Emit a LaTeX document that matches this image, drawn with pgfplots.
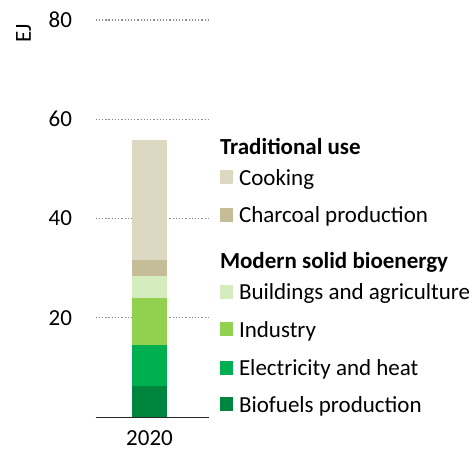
\documentclass[border=0pt]{standalone}
\usepackage{fontspec}
\setmainfont{Carlito}
\usepackage{pgfplots}
\pgfplotsset{compat=1.18}
\definecolor{cooking}{HTML}{DDD8C2}
\definecolor{charcoal}{HTML}{C4BD97}
\definecolor{buildings}{HTML}{D5EDBE}
\definecolor{industry}{HTML}{92D050}
\definecolor{electricity}{HTML}{00B050}
\definecolor{biofuels}{HTML}{00853E}
\pgfplotsset{sqleg/.style={legend image code/.code={\fill[##1, overlay] (0pt,1pt) rectangle (13pt,15pt);}}}
\newcommand{\ent}[2]{\raisebox{0pt}[#1][6pt]{#2}}
\newcommand{\ttl}[2]{\hspace*{-19pt}\raisebox{0pt}[#1][6pt]{\bfseries #2}}
\begin{document}
\begin{tikzpicture}
\useasboundingbox (0,0) rectangle (476pt,-453pt);
\begin{axis}[
  at={(95.7pt,-417pt)}, anchor=south west,
  scale only axis, width=113.3pt, height=397pt,
  xmin=-53.8, xmax=59.5, ymin=0, ymax=80,
  ybar stacked, bar width=35.6pt,
  axis x line*=bottom, axis y line*=left,
  y axis line style={draw=none},
  x axis line style={black!85, line width=0.9pt, -},
  xtick={0}, xticklabels={2020},
  ytick={20,40,60,80},
  major tick length=0pt,
  ymajorgrids, grid style={black!45, line width=1.4pt, dash pattern=on 1.3pt off 1.9pt},
  ticklabel style={font=\fontsize{23}{27}\selectfont},
  /pgf/number format/assume math mode=true,
  xticklabel style={anchor=north, inner sep=0pt, yshift=-13pt},
  yticklabel style={anchor=east, inner sep=0pt, xshift=-23.5pt},
  ylabel={EJ},
  ylabel style={at={(axis description cs:-0.637,0.967)}, anchor=center, inner sep=0pt, font=\fontsize{23}{27}\selectfont},
  legend style={at={(axis description cs:1.0971,0.7028)}, anchor=north west, draw=none, fill=none, inner sep=0pt, outer sep=0pt, row sep=0pt, column sep=19pt, nodes={inner sep=0pt}, font=\fontsize{23}{27}\selectfont},
  legend cell align=left,
  legend style={cells={anchor=base west}},
]
\addplot[fill=biofuels, draw=none, forget plot] coordinates {(0,6.2)};
\addplot[fill=electricity, draw=none, forget plot] coordinates {(0,8.4)};
\addplot[fill=industry, draw=none, forget plot] coordinates {(0,9.4)};
\addplot[fill=buildings, draw=none, forget plot] coordinates {(0,4.4)};
\addplot[fill=charcoal, draw=none, forget plot] coordinates {(0,3.3)};
\addplot[fill=cooking, draw=none, forget plot] coordinates {(0,24.1)};
\addlegendimage{empty legend}
\addlegendentry{\ttl{17pt}{Traditional use}}
\addlegendimage{sqleg, fill=cooking, draw=none}
\addlegendentry{\ent{29pt}{Cooking}}
\addlegendimage{sqleg, fill=charcoal, draw=none}
\addlegendentry{\ent{36pt}{Charcoal production}}
\addlegendimage{empty legend}
\addlegendentry{\ttl{44pt}{Modern solid bioenergy}}
\addlegendimage{sqleg, fill=buildings, draw=none}
\addlegendentry{\ent{30pt}{Buildings and agriculture}}
\addlegendimage{sqleg, fill=industry, draw=none}
\addlegendentry{\ent{36pt}{Industry}}
\addlegendimage{sqleg, fill=electricity, draw=none}
\addlegendentry{\ent{37pt}{Electricity and heat}}
\addlegendimage{sqleg, fill=biofuels, draw=none}
\addlegendentry{\ent{35pt}{Biofuels production}}
\end{axis}
\end{tikzpicture}
\end{document}
